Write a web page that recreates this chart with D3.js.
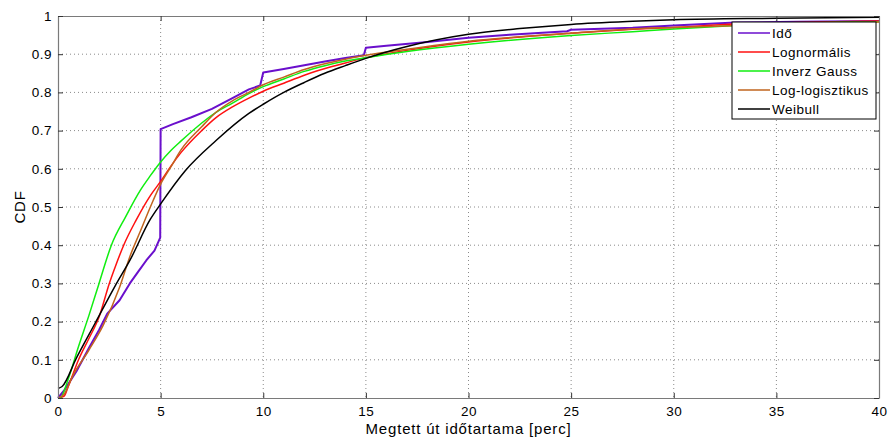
<!DOCTYPE html>
<html>
<head>
<meta charset="utf-8">
<script src="https://cdn.jsdelivr.net/npm/d3@7"></script>
<style>
body { margin: 0; background: #fff; }
text { font-family: "Liberation Sans", Arial, sans-serif; }
</style>
</head>
<body>
<script>
// values (time in minutes, CDF)
const idoT = [0, 0.3, 0.9, 1.5, 2.0, 2.4, 3.0, 3.5, 3.9, 4.3, 4.7, 4.9, 4.98, 5.0, 5.6, 6.5, 7.5, 8.5, 9.3, 9.85, 10.0, 11, 12, 13, 14, 14.9, 15.0, 16, 18, 20, 22, 24.8, 25, 28, 30, 33, 36, 40];
const idoF = [0, 0.02, 0.07, 0.13, 0.178, 0.221, 0.256, 0.30, 0.33, 0.36, 0.386, 0.41, 0.42, 0.704, 0.717, 0.735, 0.757, 0.785, 0.808, 0.818, 0.852, 0.861, 0.871, 0.881, 0.89, 0.897, 0.917, 0.922, 0.932, 0.943, 0.951, 0.96, 0.964, 0.969, 0.975, 0.983, 0.985, 0.987];

const lognT = [0, 0.3, 0.5, 1, 1.5, 2, 2.5, 2.8, 3.2, 3.8, 4.5, 5, 5.5, 6, 7, 7.7, 8.5, 9.3, 10, 11, 12, 12.6, 14, 15, 17, 20, 25, 28, 30, 33, 36, 40];
const lognF = [0, 0.005, 0.03, 0.10, 0.155, 0.212, 0.30, 0.345, 0.40, 0.465, 0.53, 0.567, 0.607, 0.643, 0.70, 0.734, 0.762, 0.785, 0.803, 0.824, 0.845, 0.856, 0.877, 0.891, 0.91, 0.932, 0.955, 0.965, 0.970, 0.979, 0.983, 0.987];

const igT = [0, 0.1, 0.5, 1, 1.5, 2, 2.6, 3.3, 4.0, 4.5, 5.0, 5.5, 6, 6.5, 7, 7.7, 8.5, 9.3, 10, 11, 12, 13, 14, 15, 17, 20, 25, 28, 30, 33, 36, 40];
const igF = [0, 0, 0.05, 0.135, 0.215, 0.30, 0.40, 0.475, 0.543, 0.582, 0.618, 0.648, 0.673, 0.697, 0.72, 0.748, 0.772, 0.797, 0.815, 0.835, 0.855, 0.87, 0.882, 0.891, 0.907, 0.926, 0.949, 0.959, 0.966, 0.975, 0.981, 0.985];

const llT = [0, 0.3, 0.7, 1.5, 2.2, 3, 3.5, 4, 4.5, 5, 5.5, 6, 7, 7.7, 8.5, 9.3, 10, 11, 12, 13, 14, 15, 17, 20, 25, 28, 30, 35, 40];
const llF = [0, 0.01, 0.056, 0.125, 0.19, 0.29, 0.37, 0.435, 0.50, 0.56, 0.605, 0.65, 0.71, 0.748, 0.778, 0.80, 0.82, 0.84, 0.86, 0.875, 0.887, 0.897, 0.913, 0.934, 0.955, 0.966, 0.970, 0.978, 0.984];

const wbT = [0, 0.2, 0.9, 1.8, 2.8, 3.5, 4.5, 5, 6.2, 7.7, 9.3, 10, 11, 12, 13, 14, 15, 17, 20, 22.5, 25, 28, 30, 35, 40];
const wbF = [0.025, 0.03, 0.105, 0.195, 0.295, 0.36, 0.468, 0.508, 0.595, 0.674, 0.745, 0.769, 0.80, 0.826, 0.85, 0.87, 0.889, 0.92, 0.952, 0.967, 0.978, 0.986, 0.99, 0.994, 0.997];

const seriesNames = ['Idő', 'Lognormális', 'Inverz Gauss', 'Log-logisztikus', 'Weibull'];
const seriesColors = ['#6a0fcc', '#ff1010', '#10ee10', '#c0641e', '#000000'];
const seriesWidths = [2, 1.5, 1.5, 1.5, 1.5];

const xTicks = [0, 5, 10, 15, 20, 25, 30, 35, 40];
const yTicks = [0, 0.1, 0.2, 0.3, 0.4, 0.5, 0.6, 0.7, 0.8, 0.9, 1];

const margin = { top: 16, right: 9, bottom: 41, left: 58 };
const width = 888 - margin.left - margin.right;
const height = 439 - margin.top - margin.bottom;

const x = d3.scaleLinear().domain([0, 40]).range([0, width]);
const y = d3.scaleLinear().domain([0, 1]).range([height, 0]);

const svg = d3.select('body').append('svg')
	.attr('width', 888)
	.attr('height', 439)
.append('g')
	.attr('transform', 'translate(' + margin.left + ',' + margin.top + ')');

// grid
svg.append('g').selectAll('line.gx')
	.data(xTicks.slice(1, -1))
	.enter().append('line')
	.attr('x1', d => x(d)).attr('x2', d => x(d))
	.attr('y1', 0).attr('y2', height)
	.attr('stroke', '#8a8a8a').attr('stroke-width', 1)
	.attr('stroke-dasharray', '1,3');

svg.append('g').selectAll('line.gy')
	.data(yTicks.slice(1, -1))
	.enter().append('line')
	.attr('x1', 0).attr('x2', width)
	.attr('y1', d => y(d)).attr('y2', d => y(d))
	.attr('stroke', '#8a8a8a').attr('stroke-width', 1)
	.attr('stroke-dasharray', '1,3');

// curves
const tables = [
	[idoT, idoF], [lognT, lognF], [igT, igF], [llT, llF], [wbT, wbF]
];

tables.forEach(function(tb, i) {
	const pts = tb[0].map((t, j) => [t, tb[1][j]]);
	// empirical curve stays piecewise, the fitted ones are smooth
	const line = d3.line()
		.x(d => x(d[0]))
		.y(d => y(d[1]))
		.curve(i === 0 ? d3.curveLinear : d3.curveMonotoneX);
	svg.append('path')
		.datum(pts)
		.attr('fill', 'none')
		.attr('stroke', seriesColors[i])
		.attr('stroke-width', seriesWidths[i])
		.attr('stroke-linejoin', 'round')
		.attr('d', line);
});

// axes (box with inward ticks)
const axisColor = '#7a7a7a';
const xAxis = d3.axisBottom(x).tickValues(xTicks).tickSizeInner(-5).tickSizeOuter(0).tickPadding(8);
const xTop = d3.axisTop(x).tickValues(xTicks).tickSizeInner(-5).tickSizeOuter(0).tickFormat('');
const yAxis = d3.axisLeft(y).tickValues(yTicks).tickSizeInner(-5).tickSizeOuter(0).tickPadding(6)
	.tickFormat(d => d === 0 ? '0' : d === 1 ? '1' : d3.format('.1f')(d));
const yRight = d3.axisRight(y).tickValues(yTicks).tickSizeInner(-5).tickSizeOuter(0).tickFormat('');

function styleAxis(g) {
	g.select('.domain').attr('stroke', axisColor).attr('stroke-width', 1.2);
	g.selectAll('.tick line').attr('stroke', '#333');
	g.selectAll('.tick text').attr('fill', '#000').style('font-size', '13.5px')
		.style('letter-spacing', '0.5px')
		.style('font-family', '"Liberation Sans", Arial, sans-serif');
}

svg.append('g').attr('transform', 'translate(0,' + height + ')').call(xAxis).call(styleAxis);
svg.append('g').call(xTop).call(styleAxis);
svg.append('g').call(yAxis).call(styleAxis);
svg.append('g').attr('transform', 'translate(' + width + ',0)').call(yRight).call(styleAxis);

// labels
svg.append('text')
	.attr('x', width / 2)
	.attr('y', height + 36)
	.attr('text-anchor', 'middle')
	.style('font-size', '15px')
	.style('letter-spacing', '0.8px')
	.text('Megtett út időtartama [perc]');

svg.append('text')
	.attr('transform', 'rotate(-90)')
	.attr('x', -height / 2)
	.attr('y', -33)
	.attr('text-anchor', 'middle')
	.style('font-size', '15px')
	.style('letter-spacing', '0.8px')
	.text('CDF');

// legend
const lg = svg.append('g').attr('transform', 'translate(' + (732 - margin.left) + ',' + (22 - margin.top) + ')');
lg.append('rect')
	.attr('width', 144).attr('height', 97)
	.attr('fill', '#fff').attr('stroke', '#000').attr('stroke-width', 1);

seriesNames.forEach(function(name, i) {
	const yy = 11 + i * 19;
	lg.append('line')
		.attr('x1', 6).attr('x2', 38)
		.attr('y1', yy).attr('y2', yy)
		.attr('stroke', seriesColors[i]).attr('stroke-width', 1.5);
	lg.append('text')
		.attr('x', 40).attr('y', yy + 4.5)
		.style('font-size', '13.5px')
		.style('letter-spacing', '0.5px')
		.text(name);
});
</script>
</body>
</html>
